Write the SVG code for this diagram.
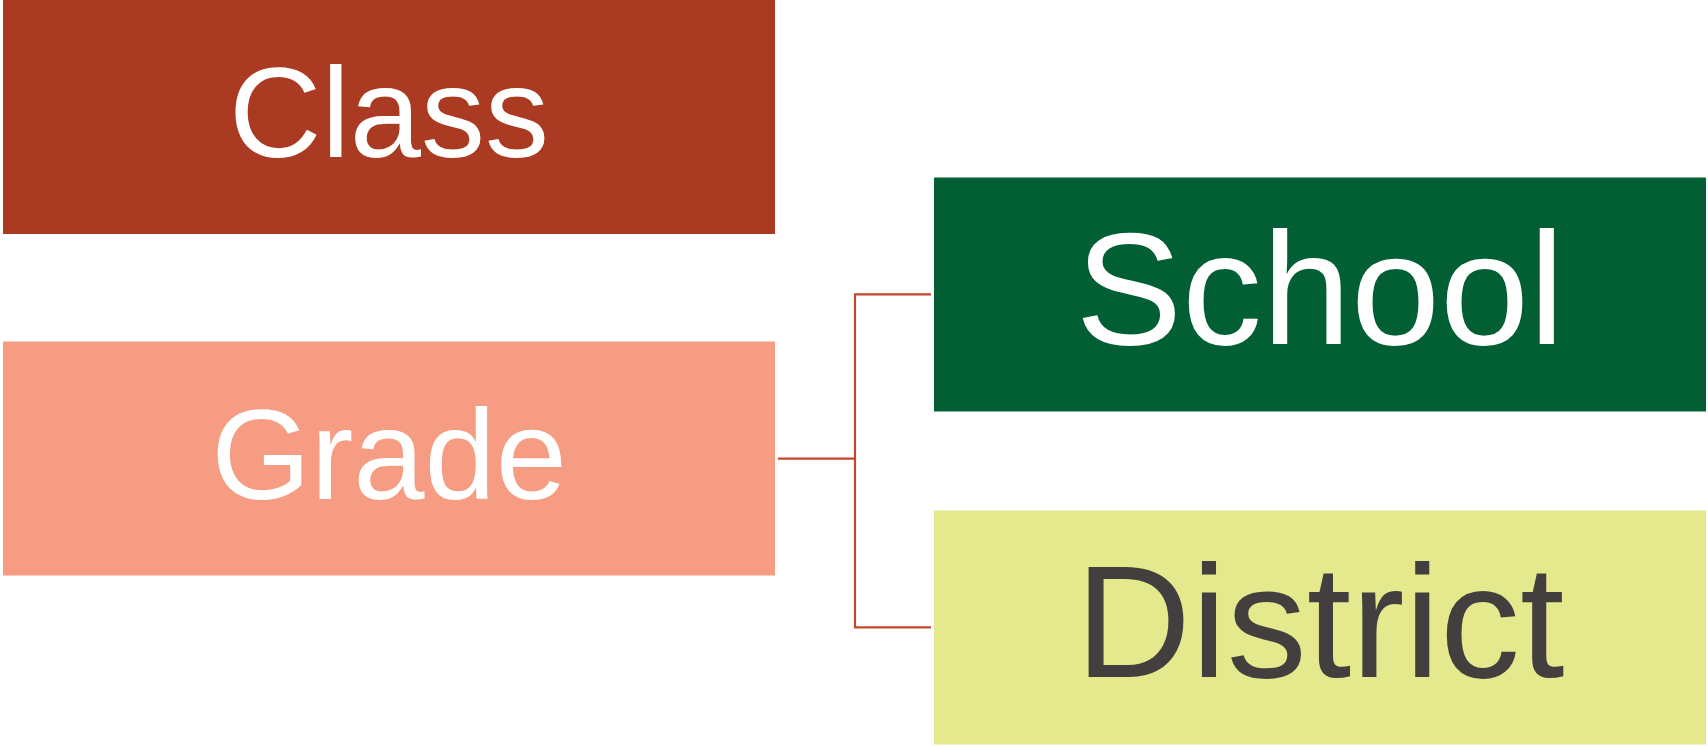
<svg xmlns="http://www.w3.org/2000/svg" width="1708" height="746" viewBox="0 0 1708 746">
  <style>
    .label { font-family: "Liberation Sans", Arial, sans-serif; text-anchor: middle; }
    .small { font-size: 128px; }
    .big { font-size: 160px; }
    .conn { fill: none; stroke: #C4472B; stroke-width: 2.2; }
  </style>
  <rect width="1708" height="746" fill="#FFFFFF"/>

  <g id="connectors">
    <path class="conn" d="M778 458.7 H855"/>
    <path class="conn" d="M931 294.3 H855 V627.3 H931"/>
  </g>

  <g id="node-class">
    <rect x="3" y="0" width="772" height="234" fill="#AB3A22"/>
    <text class="label small" x="389" y="157" fill="#FFFFFF">Class</text>
  </g>

  <g id="node-grade">
    <rect x="3" y="341.5" width="772" height="234" fill="#F69C82"/>
    <text class="label small" x="389" y="498.5" fill="#FFFFFF">Grade</text>
  </g>

  <g id="node-school">
    <rect x="934" y="177.5" width="772" height="234" fill="#025F33"/>
    <text class="label big" x="1320" y="344" fill="#FFFFFF">School</text>
  </g>

  <g id="node-district">
    <rect x="934" y="510.5" width="772" height="234" fill="#E4E98D"/>
    <text class="label big" x="1320" y="677" fill="#433F3E">District</text>
  </g>
</svg>
